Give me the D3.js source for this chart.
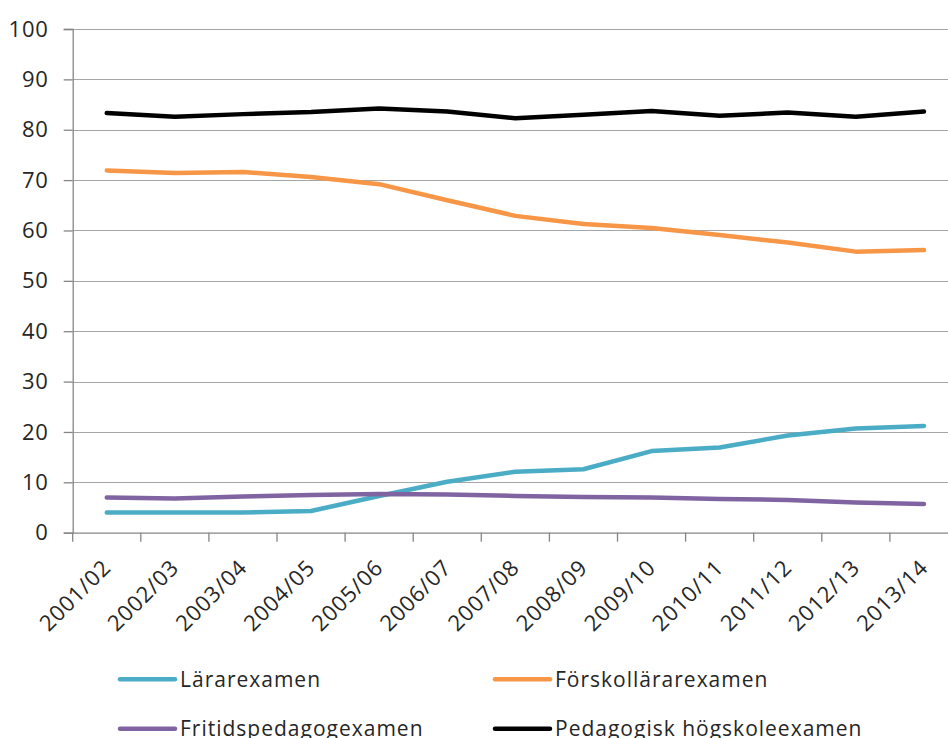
<!DOCTYPE html>
<html>
<head>
<meta charset="utf-8">
<script src="https://cdn.jsdelivr.net/npm/d3@7"></script>
<style>
  html, body { margin: 0; padding: 0; background: #fff; }
  svg { display: block; }
  text { font-family: "Open Sans", "DejaVu Sans", sans-serif; fill: #262626; }
</style>
</head>
<body>
<svg id="chart" width="948" height="738"></svg>
<script>
const categories = ["2001/02","2002/03","2003/04","2004/05","2005/06","2006/07","2007/08","2008/09","2009/10","2010/11","2011/12","2012/13","2013/14"];
const larare   = [4.0, 4.0, 4.0, 4.3, 7.3, 10.1, 12.1, 12.6, 16.2, 16.9, 19.3, 20.7, 21.2];
const forskol  = [71.9, 71.4, 71.6, 70.6, 69.2, 66.0, 62.9, 61.3, 60.5, 59.1, 57.6, 55.8, 56.1];
const fritids  = [7.0, 6.8, 7.2, 7.5, 7.7, 7.6, 7.3, 7.1, 7.0, 6.7, 6.5, 6.0, 5.7];
const pedagog  = [83.3, 82.6, 83.1, 83.5, 84.2, 83.6, 82.3, 83.0, 83.7, 82.8, 83.4, 82.6, 83.6];
const seriesNames = ["Lärarexamen", "Förskollärarexamen", "Fritidspedagogexamen", "Pedagogisk högskoleexamen"];
const yTicks = [0, 10, 20, 30, 40, 50, 60, 70, 80, 90, 100];

const colors = ["#4BACC6", "#F79646", "#8064A2", "#000000"];
const seriesData = [larare, forskol, fritids, pedagog];

const svg = d3.select("#chart");
const left = 72.7, bandW = 68.1;
const x = d3.scaleBand().domain(categories).range([left, left + bandW * categories.length]).paddingInner(0).paddingOuter(0);
const y = d3.scaleLinear().domain([0, 100]).range([532.7, 29]);

// gridlines
svg.append("g").selectAll("line").data(yTicks.filter(d => d > 0)).join("line")
  .attr("x1", left).attr("x2", 948)
  .attr("y1", d => Math.round(y(d)) + 0.5).attr("y2", d => Math.round(y(d)) + 0.5)
  .attr("stroke", "#a6a6a6").attr("stroke-width", 1.2);

// y axis
const yAxis = d3.axisLeft(y).tickValues(yTicks).tickSize(9).tickPadding(15).tickFormat(d3.format("d"));
const gy = svg.append("g").attr("transform", `translate(${left},0)`).call(yAxis);
gy.select(".domain").attr("stroke", "#868686").attr("stroke-width", 1.3);
gy.selectAll(".tick line").attr("stroke", "#868686").attr("stroke-width", 1.3);
gy.selectAll(".tick text").attr("font-size", 22).attr("letter-spacing", 0.8)
  .attr("font-family", '"Open Sans", sans-serif').attr("fill", "#262626");

// x axis
const xAxis = d3.axisBottom(x).tickSize(0).tickFormat("");
const gx = svg.append("g").attr("transform", `translate(0,${y(0)})`).call(xAxis);
gx.select(".domain").attr("stroke", "#868686").attr("stroke-width", 1.3);
gx.selectAll(".tick").remove();
// boundary ticks
const bounds = categories.map(c => x(c)).concat([x(categories[categories.length - 1]) + x.bandwidth()]);
gx.selectAll("line.bt").data(bounds).join("line").attr("class", "bt")
  .attr("x1", d => d).attr("x2", d => d).attr("y1", 0).attr("y2", 9)
  .attr("stroke", "#868686").attr("stroke-width", 1.3);

// x labels
svg.append("g").selectAll("text").data(categories).join("text")
  .attr("transform", d => `translate(${x(d) + x.bandwidth() / 2 + 5.5},569) rotate(-45)`)
  .attr("text-anchor", "end")
  .attr("font-size", 22).attr("letter-spacing", 0.9)
  .text(d => d);

// lines
const line = d3.line().x((d, i) => x(categories[i]) + x.bandwidth() / 2).y(d => y(d));
svg.append("g").selectAll("path").data(seriesData).join("path")
  .attr("d", d => line(d))
  .attr("fill", "none")
  .attr("stroke", (d, i) => colors[i])
  .attr("stroke-width", 4.5)
  .attr("stroke-linejoin", "round")
  .attr("stroke-linecap", "round");

// legend
const legendPos = [[120, 679.3], [495, 679.3], [120, 728.7], [495, 728.7]];
const lg = svg.append("g").selectAll("g").data(seriesNames).join("g")
  .attr("transform", (d, i) => `translate(${legendPos[i][0]},${legendPos[i][1]})`);
lg.append("line").attr("x1", 0).attr("x2", 55).attr("y1", 0).attr("y2", 0)
  .attr("stroke", (d, i) => colors[i]).attr("stroke-width", 4.5).attr("stroke-linecap", "round");
lg.append("text").attr("x", 60).attr("y", 7.4)
  .attr("font-size", 21).attr("letter-spacing", 1)
  .text(d => d);
</script>
</body>
</html>
